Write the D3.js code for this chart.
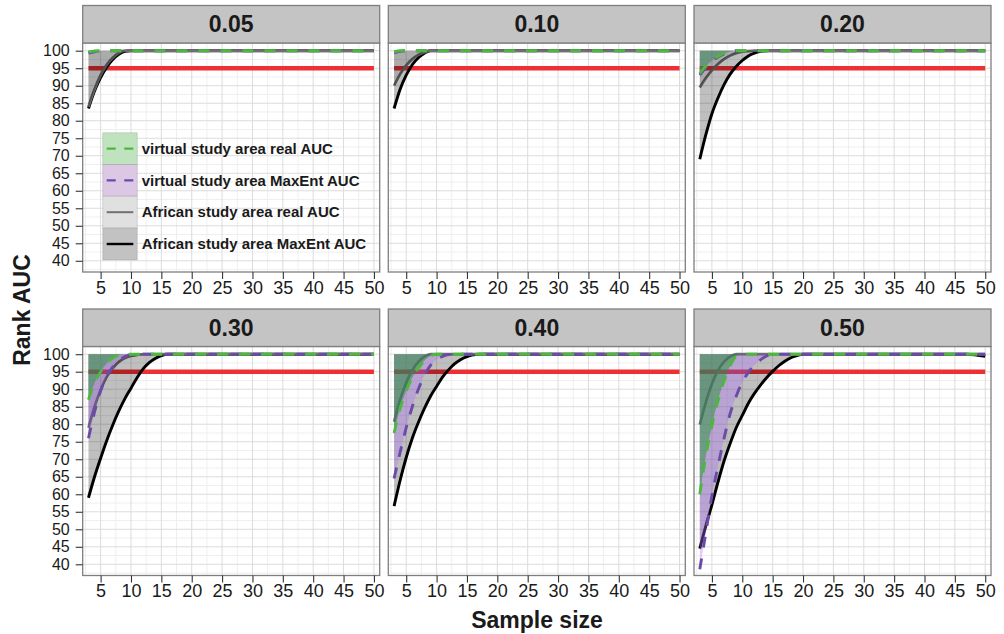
<!DOCTYPE html>
<html>
<head>
<meta charset="utf-8">
<script src="https://cdn.jsdelivr.net/npm/d3@7"></script>
<style>
body { margin: 0; background: #fff; }
svg { display: block; font-family: "Liberation Sans", Arial, sans-serif; }
</style>
</head>
<body>
<div id="chart"></div>
<script>
// data
var sampleSizes = [3, 4, 5, 6, 7, 8, 9, 10, 11, 12, 13, 14, 15, 16, 17, 18, 19, 20, 30, 40, 47, 50]
var panelLabels = ["0.05", "0.10", "0.20", "0.30", "0.40", "0.50"]
var seriesNames = ["virtual study area real AUC", "virtual study area MaxEnt AUC",
                   "African study area real AUC", "African study area MaxEnt AUC"]
var yTicks = [40, 45, 50, 55, 60, 65, 70, 75, 80, 85, 90, 95, 100]
var xTicks = [5, 10, 15, 20, 25, 30, 35, 40, 45, 50]
var threshold = 95

// one row per panel (0.05 ... 0.50), one value per sample size
var virtualReal = [
  [99.6, 99.9, 100, 100, 100, 100, 100, 100, 100, 100, 100, 100, 100, 100, 100, 100, 100, 100, 100, 100, 100, 100],
  [99.7, 100, 100, 100, 100, 100, 100, 100, 100, 100, 100, 100, 100, 100, 100, 100, 100, 100, 100, 100, 100, 100],
  [93.5, 95.6, 97.2, 98.4, 99.3, 99.8, 100, 100, 100, 100, 100, 100, 100, 100, 100, 100, 100, 100, 100, 100, 100, 100],
  [87, 91.8, 95, 97.4, 98.9, 99.7, 100, 100, 100, 100, 100, 100, 100, 100, 100, 100, 100, 100, 100, 100, 100, 100],
  [77.5, 84.5, 89.5, 93.3, 96, 98.2, 99.5, 100, 100, 100, 100, 100, 100, 100, 100, 100, 100, 100, 100, 100, 100, 100],
  [60, 71, 79.6, 86.7, 92.4, 96.7, 99.4, 100, 100, 100, 100, 100, 100, 100, 100, 100, 100, 100, 100, 100, 100, 100]
]
var virtualMaxEnt = [
  [99.3, 99.7, 99.9, 100, 100, 100, 100, 100, 100, 100, 100, 100, 100, 100, 100, 100, 100, 100, 100, 100, 100, 100],
  [99.4, 99.8, 100, 100, 100, 100, 100, 100, 100, 100, 100, 100, 100, 100, 100, 100, 100, 100, 100, 100, 100, 100],
  [93, 95.2, 96.9, 98.2, 99.1, 99.7, 100, 100, 100, 100, 100, 100, 100, 100, 100, 100, 100, 100, 100, 100, 100, 100],
  [76, 83.5, 89.5, 93.6, 96.4, 98.2, 99.3, 99.9, 100, 100, 100, 100, 100, 100, 100, 100, 100, 100, 100, 100, 100, 100],
  [64.5, 72, 79, 85, 90, 94, 96.8, 98.5, 99.4, 99.9, 100, 100, 100, 100, 100, 100, 100, 100, 100, 100, 100, 100],
  [38.6, 49, 59.6, 68, 76, 83, 88, 92, 94.8, 96.9, 98.4, 99.5, 100, 100, 100, 100, 100, 100, 100, 100, 100, 100]
]
var africaReal = [
  [84, 89, 93, 96, 98, 99.4, 100, 100, 100, 100, 100, 100, 100, 100, 100, 100, 100, 100, 100, 100, 100, 100],
  [90, 93.3, 95.8, 97.6, 98.8, 99.6, 100, 100, 100, 100, 100, 100, 100, 100, 100, 100, 100, 100, 100, 100, 100, 100],
  [89.5, 92.2, 94.4, 96.2, 97.6, 98.6, 99.3, 99.7, 99.9, 100, 100, 100, 100, 100, 100, 100, 100, 100, 100, 100, 100, 100],
  [79, 85, 89.8, 93.5, 96, 97.8, 98.9, 99.5, 99.8, 100, 100, 100, 100, 100, 100, 100, 100, 100, 100, 100, 100, 100],
  [80.7, 87, 91.8, 95.4, 97.8, 99.3, 100, 100, 100, 100, 100, 100, 100, 100, 100, 100, 100, 100, 100, 100, 100, 100],
  [79.9, 86.2, 91.5, 95.3, 97.8, 99.3, 100, 100, 100, 100, 100, 100, 100, 100, 100, 100, 100, 100, 100, 100, 100, 100]
]
var africaMaxEnt = [
  [83.5, 88.5, 92.3, 95.3, 97.5, 99, 99.8, 100, 100, 100, 100, 100, 100, 100, 100, 100, 100, 100, 100, 100, 100, 100],
  [83.5, 89, 93, 96, 98, 99.3, 100, 100, 100, 100, 100, 100, 100, 100, 100, 100, 100, 100, 100, 100, 100, 100],
  [69, 76, 82, 86.5, 90.3, 93.3, 95.5, 97.2, 98.5, 99.3, 99.8, 100, 100, 100, 100, 100, 100, 100, 100, 100, 100, 100],
  [59, 65, 70.3, 75.3, 79.8, 83.8, 87.3, 90.3, 93.3, 95.8, 97.6, 98.8, 99.6, 100, 100, 100, 100, 100, 100, 100, 100, 100],
  [56.6, 64, 70.5, 76, 80.5, 84.5, 88, 90.8, 93.5, 95.6, 97.3, 98.5, 99.3, 99.8, 100, 100, 100, 100, 100, 100, 100, 100],
  [44.5, 51, 57, 63.5, 69.5, 74.5, 79, 82.5, 86, 88.8, 91.2, 93.3, 95.1, 96.7, 98, 99, 99.6, 100, 100, 100, 100, 99.4]
]
var allSeries = [virtualReal, virtualMaxEnt, africaReal, africaMaxEnt]

// look
var styles = [
  {line: "#4cb83d", dash: "11,11", w: 2.9, fill: "rgb(37,145,54)",   op: 0.5,  key: "#c0e3bf"},
  {line: "#6a4ca8", dash: "11,11", w: 2.9, fill: "rgb(174,111,245)", op: 0.35, key: "#dcc7e5"},
  {line: "#707070", dash: null,    w: 2.7, fill: "#000",             op: 0.1,  key: "#e0e0e0"},
  {line: "#000",    dash: null,    w: 2.9, fill: "#000",             op: 0.25, key: "#c2c2c2"}
]

var W = 1004, H = 634
var colX = [82.7, 388.3, 694]
var rowY = [5.5, 309]
var stripH = 37.5, pw = 297, ph = 229

var x = d3.scaleLinear().domain([2.05, 50.95]).range([0, pw])
var y = d3.scaleLinear().domain([36.8, 102.2]).range([ph, 0])

var area = d3.area()
    .x(d => x(d[0]))
    .y0(y(100))
    .y1(d => y(d[1]))
    .curve(d3.curveMonotoneX)
var line = d3.line()
    .x(d => x(d[0]))
    .y(d => y(d[1]))
    .curve(d3.curveMonotoneX)

var svg = d3.select("#chart").append("svg")
    .attr("width", W)
    .attr("height", H)

function pts(s, p) {
    return sampleSizes.map((n, i) => [n, allSeries[s][p][i]])
}

panelLabels.forEach(function(lab, p) {
    var col = p % 3, row = Math.floor(p / 3)
    var top = rowY[row] + stripH
    var g = svg.append("g").attr("transform", "translate(" + colX[col] + "," + top + ")")

    // strip
    svg.append("rect")
        .attr("x", colX[col]).attr("y", rowY[row])
        .attr("width", pw).attr("height", stripH)
        .attr("fill", "#c4c4c4").attr("stroke", "#7f7f7f").attr("stroke-width", 1.3)
    svg.append("text")
        .attr("x", colX[col] + pw / 2).attr("y", rowY[row] + stripH / 2 + 8.2)
        .attr("text-anchor", "middle")
        .style("font-size", "23px").style("font-weight", "bold").attr("fill", "#1a1a1a")
        .text(lab)

    g.append("rect").attr("width", pw).attr("height", ph).attr("fill", "#fff")

    // grid
    var minorX = d3.range(2.5, 50, 5), minorY = d3.range(37.5, 100, 5)
    g.selectAll(".mx").data(minorX).enter().append("line")
        .attr("x1", d => x(d)).attr("x2", d => x(d)).attr("y1", 0).attr("y2", ph)
        .attr("stroke", "#efefef").attr("stroke-width", 1)
    g.selectAll(".my").data(minorY).enter().append("line")
        .attr("y1", d => y(d)).attr("y2", d => y(d)).attr("x1", 0).attr("x2", pw)
        .attr("stroke", "#efefef").attr("stroke-width", 1)
    g.selectAll(".gx").data(xTicks).enter().append("line")
        .attr("x1", d => x(d)).attr("x2", d => x(d)).attr("y1", 0).attr("y2", ph)
        .attr("stroke", "#dcdcdc").attr("stroke-width", 1)
    g.selectAll(".gy").data(yTicks).enter().append("line")
        .attr("y1", d => y(d)).attr("y2", d => y(d)).attr("x1", 0).attr("x2", pw)
        .attr("stroke", "#dcdcdc").attr("stroke-width", 1)

    // 95% threshold
    g.append("line")
        .attr("x1", x(sampleSizes[0])).attr("x2", x(sampleSizes[sampleSizes.length - 1]))
        .attr("y1", y(threshold)).attr("y2", y(threshold))
        .attr("stroke", "#ee2f33").attr("stroke-width", 4.5)

    // African lines sit under the ribbons
    ;[3, 2].forEach(function(s) {
        g.append("path").datum(pts(s, p)).attr("d", line)
            .attr("fill", "none").attr("stroke", styles[s].line)
            .attr("stroke-width", styles[s].w)
    })

    ;[3, 2, 1, 0].forEach(function(s) {
        g.append("path").datum(pts(s, p)).attr("d", area)
            .attr("fill", styles[s].fill).attr("fill-opacity", styles[s].op)
    })

    ;[1, 0].forEach(function(s) {
        g.append("path").datum(pts(s, p)).attr("d", line)
            .attr("fill", "none").attr("stroke", styles[s].line)
            .attr("stroke-width", styles[s].w)
            .attr("stroke-dasharray", styles[s].dash)
    })

    g.append("rect").attr("width", pw).attr("height", ph)
        .attr("fill", "none").attr("stroke", "#7f7f7f").attr("stroke-width", 1.3)

    // axes
    var xa = g.append("g").attr("class", "xaxis").attr("transform", "translate(0," + ph + ")")
        .call(d3.axisBottom(x).tickValues(xTicks).tickSize(7).tickPadding(2))
    xa.select(".domain").remove()
    if (col == 0) {
        var ya = g.append("g").attr("class", "yaxis")
            .call(d3.axisLeft(y).tickValues(yTicks).tickSize(7).tickPadding(6))
        ya.select(".domain").remove()
    }
})

svg.selectAll(".tick text")
    .style("font-family", "'Liberation Sans', Arial, sans-serif")
    .attr("fill", "#1a1a1a")
svg.selectAll(".xaxis .tick text").style("font-size", "18px")
svg.selectAll(".yaxis .tick text").style("font-size", "16px")
svg.selectAll(".tick line").attr("stroke", "#333").attr("stroke-width", 1.1)

// legend inside the first panel
var lg = svg.append("g").attr("transform", "translate(102.7,132.7)")
seriesNames.forEach(function(name, i) {
    var k = lg.append("g").attr("transform", "translate(0," + (i * 31.8) + ")")
    k.append("rect").attr("width", 34.6).attr("height", 31.8)
        .attr("fill", styles[i].key).attr("stroke", "rgba(0,0,0,0.12)").attr("stroke-width", 1)
    k.append("line").attr("x1", 4).attr("x2", 30.6).attr("y1", 15.9).attr("y2", 15.9)
        .attr("stroke", styles[i].line).attr("stroke-width", i == 2 ? 2 : 2.4)
        .attr("stroke-dasharray", styles[i].dash ? "9,8.6" : null)
    k.append("text").attr("x", 39).attr("y", 21.2)
        .style("font-size", "15px").style("font-weight", "bold").attr("fill", "#1a1a1a")
        .text(name)
})

// axis titles
svg.append("text")
    .attr("transform", "translate(30,310) rotate(-90)")
    .attr("text-anchor", "middle")
    .style("font-size", "23px").style("font-weight", "bold").attr("fill", "#1a1a1a")
    .text("Rank AUC")
svg.append("text")
    .attr("x", 537).attr("y", 628)
    .attr("text-anchor", "middle")
    .style("font-size", "23px").style("font-weight", "bold").attr("fill", "#1a1a1a")
    .text("Sample size")
</script>
</body>
</html>
